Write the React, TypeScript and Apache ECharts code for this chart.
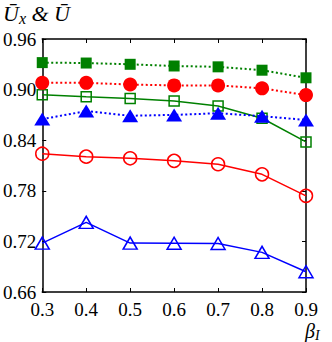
import React, { useEffect, useRef } from "react";
import * as echarts from "echarts";

const betaValues = [0.3, 0.4, 0.5, 0.6, 0.7, 0.8, 0.9];
const greenFilled = [0.932, 0.9315, 0.930, 0.928, 0.927, 0.923, 0.914];
const redFilled = [0.908, 0.908, 0.906, 0.905, 0.905, 0.9015, 0.8935];
const greenOpen = [0.894, 0.8915, 0.8895, 0.8865, 0.8805, 0.866, 0.838];
const blueFilled = [0.865, 0.8745, 0.869, 0.870, 0.872, 0.8685, 0.864];
const redOpen = [0.824, 0.8205, 0.8185, 0.8155, 0.8115, 0.7995, 0.774];
const blueOpen = [0.718, 0.7425, 0.718, 0.7178, 0.7175, 0.707, 0.684];
const yTicks = [0.66, 0.72, 0.78, 0.84, 0.9, 0.96];

const FONT = "'Liberation Serif', 'DejaVu Serif', serif";

function pairs(vals: number[]) {
  return betaValues.map((b, i) => [b, vals[i]]);
}

export default function App() {
  const ref = useRef<HTMLDivElement>(null);
  useEffect(() => {
    const chart = echarts.init(ref.current!, null, { renderer: "svg" });
    const mk = (
      vals: number[],
      color: string,
      symbol: string,
      size: any,
      filled: boolean,
      dotted: boolean,
      z: number
    ) => ({
      type: "line",
      data: pairs(vals),
      symbol,
      symbolSize: size,
      showAllSymbol: true,
      z,
      lineStyle: {
        color,
        width: dotted ? 2 : 1.5,
        type: dotted ? [2, 2.5] : "solid",
      },
      itemStyle: filled
        ? { color, borderColor: color, borderWidth: 0 }
        : { color: "rgba(255,255,255,0)", borderColor: color, borderWidth: 1.5 },
    });
    chart.setOption({
      animation: false,
      grid: { left: 42, right: 26, top: 39, bottom: 50, containLabel: false },
      xAxis: [
        {
          type: "value",
          min: 0.3,
          max: 0.9,
          interval: 0.1,
          position: "bottom",
          axisLine: { show: true, lineStyle: { color: "#000", width: 1.5 } },
          axisTick: { show: true, inside: true, length: 4, lineStyle: { color: "#000" } },
          splitLine: { show: false },
          axisLabel: {
            color: "#000",
            fontFamily: FONT,
            fontSize: 19,
            margin: 8,
            formatter: (v: number) => v.toFixed(1),
          },
        },
        {
          type: "value",
          min: 0.3,
          max: 0.9,
          interval: 0.1,
          position: "top",
          axisLine: { show: true, lineStyle: { color: "#000", width: 1.5 } },
          axisTick: { show: true, inside: true, length: 4, lineStyle: { color: "#000" } },
          splitLine: { show: false },
          axisLabel: { show: false },
        },
      ],
      yAxis: [
        {
          type: "value",
          min: 0.66,
          max: 0.96,
          interval: 0.06,
          position: "left",
          axisLine: { show: true, lineStyle: { color: "#000", width: 1.5 } },
          axisTick: { show: true, inside: true, length: 4, lineStyle: { color: "#000" } },
          splitLine: { show: false },
          axisLabel: {
            color: "#000",
            fontFamily: FONT,
            fontSize: 19,
            margin: 6,
            formatter: (v: number) => {
              const near = yTicks.find((t) => Math.abs(t - v) < 1e-6);
              return near !== undefined ? near.toFixed(2) : "";
            },
          },
        },
        {
          type: "value",
          min: 0.66,
          max: 0.96,
          interval: 0.06,
          position: "right",
          axisLine: { show: true, lineStyle: { color: "#000", width: 1.5 } },
          axisTick: { show: true, inside: true, length: 4, lineStyle: { color: "#000" } },
          splitLine: { show: false },
          axisLabel: { show: false },
        },
      ],
      series: [
        mk(blueOpen, "#0000ff", "triangle", [14, 12], false, false, 2),
        mk(redOpen, "#ff0000", "circle", 13, false, false, 2),
        mk(greenOpen, "#008000", "rect", 10, false, false, 2),
        mk(blueFilled, "#0000ff", "triangle", [16, 13], true, true, 3),
        mk(redFilled, "#ff0000", "circle", 14, true, true, 3),
        mk(greenFilled, "#008000", "rect", 11, true, true, 3),
      ],
      graphic: [
        {
          type: "text",
          left: 3,
          top: 2,
          style: {
            text: "{u|Ū}{s|x}{u| & Ū}",
            rich: {
              u: { fontFamily: FONT, fontStyle: "italic", fontSize: 22, fill: "#000" },
              s: {
                fontFamily: FONT,
                fontStyle: "italic",
                fontSize: 16,
                fill: "#000",
                padding: [10, 0, 0, 0],
              },
            },
          },
        },
        {
          type: "text",
          left: 305,
          top: 321,
          style: {
            text: "{b|β}{s|I}",
            rich: {
              b: { fontFamily: FONT, fontStyle: "italic", fontSize: 20, fill: "#000" },
              s: {
                fontFamily: FONT,
                fontStyle: "italic",
                fontSize: 14,
                fill: "#000",
                padding: [8, 0, 0, 0],
              },
            },
          },
        },
      ],
    });
    return () => chart.dispose();
  }, []);
  return <div ref={ref} style={{ width: 332, height: 342, position: "absolute", left: 0, top: 0 }} />;
}
